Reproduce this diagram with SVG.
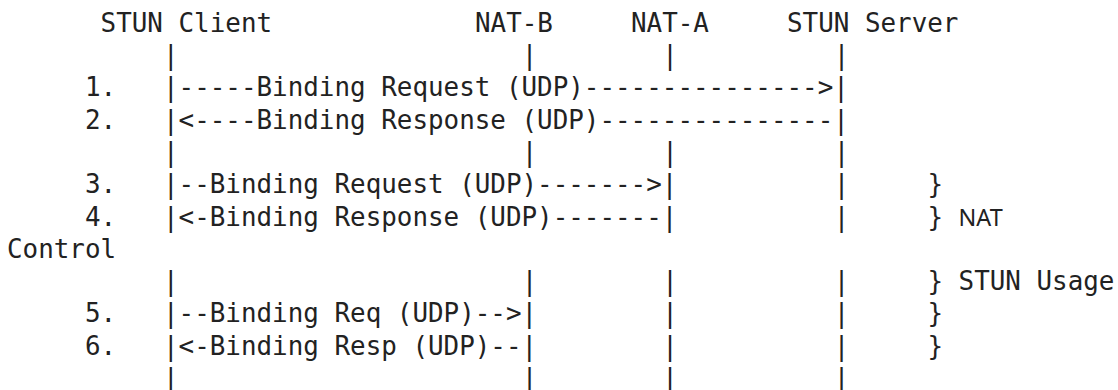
<svg xmlns="http://www.w3.org/2000/svg" width="1118" height="390" viewBox="0 0 1118 390">
  <style>
    text { font-family: "DejaVu Sans Mono", "Liberation Mono", monospace; font-size: 25.9px; fill: #222; }
    .alt { font-family: "Noto Sans", "DejaVu Sans", sans-serif; font-size: 23.4px; }
  </style>
  <rect width="1118" height="390" fill="#fff"/>

  <!-- participants: column grid x = 7 + col * 15.6, baselines y = 31.7 + row * 32.3 -->
  <g id="stun-client">
    <text x="100.6" y="31.7">STUN Client</text>
  </g>
  <g id="nat-b">
    <text x="475" y="31.7">NAT-B</text>
  </g>
  <g id="nat-a">
    <text x="631" y="31.7">NAT-A</text>
  </g>
  <g id="stun-server">
    <text x="787" y="31.7">STUN Server</text>
  </g>

  <!-- lifeline characters -->
  <g id="lifelines">
    <text x="163" y="64">|</text><text x="521.8" y="64">|</text><text x="662.2" y="64">|</text><text x="833.8" y="64">|</text>
    <text x="163" y="160.9">|</text><text x="521.8" y="160.9">|</text><text x="662.2" y="160.9">|</text><text x="833.8" y="160.9">|</text>
    <text x="833.8" y="193.2">|</text>
    <text x="833.8" y="225.5">|</text>
    <text x="163" y="290.1">|</text><text x="521.8" y="290.1">|</text><text x="662.2" y="290.1">|</text><text x="833.8" y="290.1">|</text>
    <text x="662.2" y="322.4">|</text><text x="833.8" y="322.4">|</text>
    <text x="662.2" y="354.7">|</text><text x="833.8" y="354.7">|</text>
    <text x="163" y="387">|</text><text x="521.8" y="387">|</text><text x="662.2" y="387">|</text><text x="833.8" y="387">|</text>
  </g>

  <!-- step numbers -->
  <g id="steps">
    <text x="85" y="96.3">1.</text>
    <text x="85" y="128.6">2.</text>
    <text x="85" y="193.2">3.</text>
    <text x="85" y="225.5">4.</text>
    <text x="85" y="322.4">5.</text>
    <text x="85" y="354.7">6.</text>
  </g>

  <!-- message arrows -->
  <g id="connectors">
    <text x="163" y="96.3">|-----Binding Request (UDP)---------------&gt;|</text>
    <text x="163" y="128.6">|&lt;----Binding Response (UDP)---------------|</text>
    <text x="163" y="193.2">|--Binding Request (UDP)-------&gt;|</text>
    <text x="163" y="225.5">|&lt;-Binding Response (UDP)-------|</text>
    <text x="163" y="322.4">|--Binding Req (UDP)--&gt;|</text>
    <text x="163" y="354.7">|&lt;-Binding Resp (UDP)--|</text>
  </g>

  <!-- bracket annotations -->
  <g id="annotations">
    <text x="927.4" y="193.2">}</text>
    <text x="927.4" y="225.5">}</text>
    <text class="alt" x="958.6" y="225.5">NAT</text>
    <text x="7" y="257.8">Control</text>
    <text x="927.4" y="290.1">} STUN Usage</text>
    <text x="927.4" y="322.4">}</text>
    <text x="927.4" y="354.7">}</text>
  </g>
</svg>
